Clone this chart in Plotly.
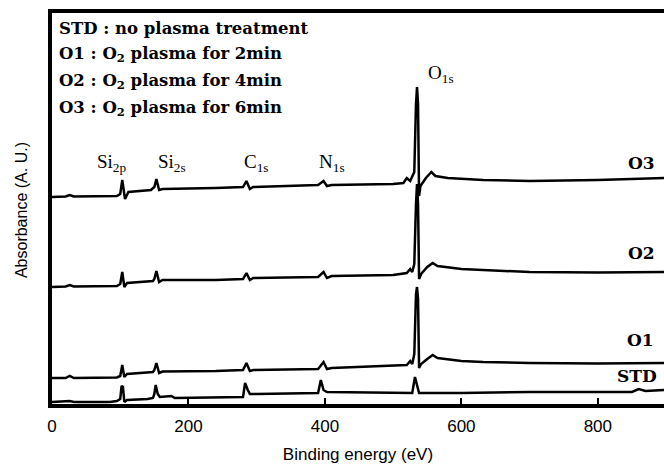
import plotly.graph_objects as go

# Binding energy (eV) / absorbance (arbitrary units)
std_x = [0, 26, 32, 85, 95, 100, 102, 104, 106, 110, 140, 148, 150, 152, 155, 158, 175, 180, 280, 283, 287, 290, 300, 390, 394, 398, 403, 500, 528, 532, 535, 538, 600, 700, 850, 860, 870, 897]
std_y = [2, 3, 2, 2, 3, 5, 18, 17, 2, 4, 5, 6, 10, 19, 10, 7, 8, 6, 7, 21, 14, 10, 10, 11, 24, 14, 12, 11, 11, 27, 20, 11, 11, 12, 12, 15, 13, 14]

o1_x = [0, 20, 26, 32, 95, 100, 103, 106, 110, 140, 148, 150, 153, 157, 162, 240, 280, 285, 290, 295, 390, 398, 403, 410, 500, 520, 525, 528, 531, 533.5, 535, 536.5, 538, 541, 550, 558, 565, 600, 632, 700, 800, 897]
o1_y = [26, 26, 28, 26, 26.5, 28, 39, 27, 30, 31, 32, 34, 41, 31, 32.5, 33, 34, 41, 33, 34, 35, 42, 35, 36, 38, 39, 43, 40, 50, 110, 117, 105, 36, 40, 45, 49, 46, 43, 42, 41, 40.5, 41]

o2_x = [0, 20, 26, 32, 95, 100, 103, 106, 110, 140, 148, 150, 153, 157, 162, 240, 280, 285, 290, 295, 390, 398, 403, 410, 500, 520, 525, 528, 531, 533.5, 535, 536.5, 538, 541, 550, 558, 565, 600, 632, 700, 800, 897]
o2_y = [117, 117.5, 119, 117.5, 118, 120, 132, 117, 121, 122, 123, 125, 133, 122, 124, 124, 125, 131, 124, 126, 127, 132, 126, 128, 129, 131, 135, 132, 140, 200, 220, 200, 125, 130, 137, 141, 138, 135, 134, 132, 131.5, 132]

o3_x = [0, 20, 26, 32, 95, 100, 103, 107, 112, 135, 145, 150, 153, 157, 162, 240, 280, 285, 290, 295, 390, 398, 403, 410, 500, 515, 520, 525, 528, 531, 533.5, 535, 536.5, 538, 540, 548, 556, 562, 580, 632, 700, 800, 897]
o3_y = [207, 207.5, 209, 207.5, 208, 210, 224, 205, 212, 213, 214, 217, 225, 214, 215, 216, 217, 223, 215, 217, 219, 223, 218, 219, 220, 221, 226, 223, 228, 232, 300, 317, 300, 208, 218, 226, 232, 228, 226, 224, 223, 224, 226]

series_x = [std_x, o1_x, o2_x, o3_x]
series_y = [std_y, o1_y, o2_y, o3_y]
series_names = ["STD", "O1", "O2", "O3"]

# curve labels (eV, level)
curve_label_x = [857, 862, 864, 864]
curve_label_y = [28, 64, 151, 241]

peak_names = ["Si<sub>2p</sub>", "Si<sub>2s</sub>", "C<sub>1s</sub>", "N<sub>1s</sub>", "O<sub>1s</sub>"]
peak_label_x = [88, 176, 299, 410, 570]
peak_label_y = [241, 241, 241, 241, 330]

legend_lines = [
    "STD : no plasma treatment",
    "O1 : O<sub>2</sub> plasma for 2min",
    "O2 : O<sub>2</sub> plasma for 4min",
    "O3 : O<sub>2</sub> plasma for 6min",
]
legend_y = [376, 350, 322.5, 296]

x_ticks = [0, 200, 400, 600, 800]

fig = go.Figure()
for xs, ys, nm in zip(series_x, series_y, series_names):
    fig.add_trace(go.Scatter(x=xs, y=ys, mode="lines", name=nm,
                             line=dict(color="black", width=2.5), showlegend=False))

serif = "DejaVu Serif"
for t, x, y in zip(series_names, curve_label_x, curve_label_y):
    fig.add_annotation(x=x, y=y, text="<b>%s</b>" % t, showarrow=False,
                       font=dict(family=serif, size=17, color="black"))
for t, x, y in zip(peak_names, peak_label_x, peak_label_y):
    fig.add_annotation(x=x, y=y, text=t, showarrow=False,
                       font=dict(family="Liberation Serif", size=19, color="black"))
for t, y in zip(legend_lines, legend_y):
    fig.add_annotation(xref="paper", x=0.008, y=y, text="<b>%s</b>" % t, showarrow=False,
                       xanchor="left", font=dict(family=serif, size=16.5, color="black"))

fig.add_annotation(xref="paper", yref="paper", x=-0.05, y=0.497, text="Absorbance (A. U.)",
                   textangle=-90, showarrow=False, xanchor="center", yanchor="middle",
                   font=dict(family="Liberation Sans", size=16, color="black"))

fig.update_layout(
    width=664, height=466,
    margin=dict(l=52, r=0, t=13, b=62),
    paper_bgcolor="white", plot_bgcolor="white",
    xaxis=dict(range=[0, 897], tickvals=x_ticks, ticks="inside", ticklen=6, tickwidth=2,
               tickcolor="black", showline=True, linewidth=3.5, linecolor="black", mirror=True,
               showgrid=False, zeroline=False, ticklabelstandoff=4,
               tickfont=dict(family="Liberation Sans", size=17, color="black"),
               title=dict(text="Binding energy (eV)", standoff=14,
                          font=dict(family="Liberation Sans", size=17, color="black"))),
    yaxis=dict(range=[0, 391], showticklabels=False, ticks="", showline=True, linewidth=3.5,
               linecolor="black", showgrid=False, zeroline=False),
)
fig.write_html("out.html")
